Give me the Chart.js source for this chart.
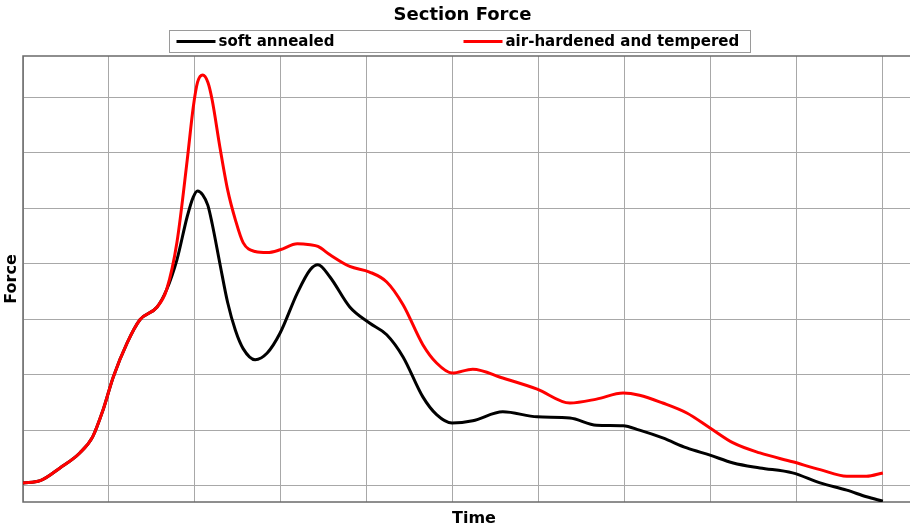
<!DOCTYPE html>
<html>
<head>
<meta charset="utf-8">
<script src="https://cdn.jsdelivr.net/npm/chart.js@4.4.1/dist/chart.umd.min.js"></script>
<style>
  html, body { margin: 0; padding: 0; background: #fff; overflow: hidden; }
  #wrap { width: 910px; height: 527px; overflow: hidden; }
</style>
</head>
<body>
<div id="wrap"><canvas id="force-chart" width="925" height="527"></canvas></div>
<script>
// time in grid steps, force in grid steps
const timeSteps = [0.00, 0.20, 0.43, 0.66, 0.81, 0.93, 1.05, 1.21, 1.36, 1.56, 1.67,
    1.79, 1.91, 1.98, 2.03, 2.09, 2.15, 2.20, 2.29, 2.38, 2.47, 2.56,
    2.70, 2.84, 2.99, 3.19, 3.34, 3.43, 3.57, 3.80, 4.03, 4.23, 4.42,
    4.65, 4.81, 4.99, 5.23, 5.58, 5.98, 6.36, 6.67, 6.98, 7.17, 7.44,
    7.72, 7.99, 8.26, 8.57, 8.95, 9.27, 9.58, 9.81, 10.00];

const softAnnealed = [0.05, 0.09, 0.32, 0.59, 0.88, 1.36, 1.96, 2.57, 2.99, 3.22, 3.53,
    4.07, 4.85, 5.20, 5.31, 5.24, 5.05, 4.72, 4.00, 3.30, 2.80, 2.47,
    2.27, 2.39, 2.75, 3.47, 3.89, 3.98, 3.76, 3.22, 2.93, 2.72, 2.32,
    1.60, 1.28, 1.13, 1.17, 1.33, 1.24, 1.22, 1.09, 1.08, 1.00, 0.86,
    0.68, 0.55, 0.41, 0.32, 0.23, 0.05, -0.08, -0.20, -0.28];

const airHardened = [0.05, 0.09, 0.32, 0.59, 0.88, 1.36, 1.96, 2.57, 2.99, 3.22, 3.53,
    4.38, 5.87, 6.82, 7.27, 7.40, 7.27, 6.95, 6.10, 5.33, 4.79, 4.38,
    4.22, 4.20, 4.25, 4.36, 4.34, 4.31, 4.16, 3.95, 3.85, 3.67, 3.26,
    2.54, 2.21, 2.03, 2.10, 1.94, 1.74, 1.49, 1.56, 1.67, 1.63, 1.49,
    1.31, 1.04, 0.77, 0.59, 0.43, 0.29, 0.17, 0.17, 0.23];

const seriesLabels = ['soft annealed', 'air-hardened and tempered'];
const seriesColors = ['#000000', '#ff0000'];

function toPoints(values) {
    return values.map((v, i) => ({ x: timeSteps[i], y: v }));
}

// plot frame drawn under the curves
const plotFrame = {
    id: 'plotFrame',
    beforeDatasetsDraw(chart) {
        const a = chart.chartArea;
        const ctx = chart.ctx;
        ctx.save();
        ctx.strokeStyle = '#6a6a6a';
        ctx.lineWidth = 1.5;
        ctx.strokeRect(a.left, a.top, a.right - a.left, a.bottom - a.top);
        ctx.restore();
    }
};

// boxed legend with two equal cells, like the original
const boxLegend = {
    id: 'boxLegend',
    afterDraw(chart) {
        const ctx = chart.ctx;
        const w = 581, h = 22;
        const left = 169.5, top = 30.5;
        ctx.save();
        ctx.fillStyle = '#ffffff';
        ctx.fillRect(left, top, w, h);
        ctx.strokeStyle = '#9a9a9a';
        ctx.lineWidth = 1;
        ctx.strokeRect(left, top, w, h);
        ctx.font = 'bold 15px "DejaVu Sans"';
        ctx.textBaseline = 'middle';
        const offsets = [7, 294];
        chart.data.datasets.forEach((ds, i) => {
            const x = left + offsets[i];
            const y = top + h / 2;
            ctx.strokeStyle = ds.borderColor;
            ctx.lineWidth = 3;
            ctx.beginPath();
            ctx.moveTo(x, y);
            ctx.lineTo(x + 39, y);
            ctx.stroke();
            ctx.fillStyle = '#000';
            ctx.fillText(ds.label, x + 42, y + 1);
        });
        ctx.restore();
    }
};

const ctx = document.getElementById('force-chart').getContext('2d');

window.forceChart = new Chart(ctx, {
    type: 'line',
    data: {
        datasets: [{
            label: seriesLabels[0],
            data: toPoints(softAnnealed),
            borderColor: seriesColors[0],
            borderWidth: 3,
            pointRadius: 0,
            cubicInterpolationMode: 'monotone',
            order: 1
        }, {
            label: seriesLabels[1],
            data: toPoints(airHardened),
            borderColor: seriesColors[1],
            borderWidth: 3,
            pointRadius: 0,
            cubicInterpolationMode: 'monotone',
            order: 0
        }]
    },
    options: {
        responsive: false,
        animation: false,
        layout: { padding: 0 },
        scales: {
            x: {
                type: 'linear',
                min: 0,
                max: 10.49,
                ticks: { display: false, stepSize: 1, includeBounds: false },
                grid: { color: '#a8a8a8', drawTicks: false },
                border: { display: false },
                title: {
                    display: true,
                    text: 'Time',
                    color: '#000',
                    font: { family: 'DejaVu Sans', size: 16, weight: 'bold', lineHeight: 1 },
                    padding: { top: 9, bottom: 0 }
                }
            },
            y: {
                min: -0.294,
                max: 7.742,
                ticks: { display: false, stepSize: 1, includeBounds: false },
                grid: { color: '#a8a8a8', drawTicks: false },
                border: { display: false },
                title: {
                    display: true,
                    text: 'Force',
                    color: '#000',
                    font: { family: 'DejaVu Sans', size: 16, weight: 'bold', lineHeight: 1 },
                    padding: { top: 4, bottom: 3 }
                }
            }
        },
        plugins: {
            legend: { display: false },
            tooltip: { enabled: false },
            title: {
                display: true,
                text: 'Section Force',
                color: '#000',
                font: { family: 'DejaVu Sans', size: 18, weight: 'bold' },
                padding: { top: 5, bottom: 29.4 }
            }
        }
    },
    plugins: [plotFrame, boxLegend]
});
</script>
</body>
</html>
